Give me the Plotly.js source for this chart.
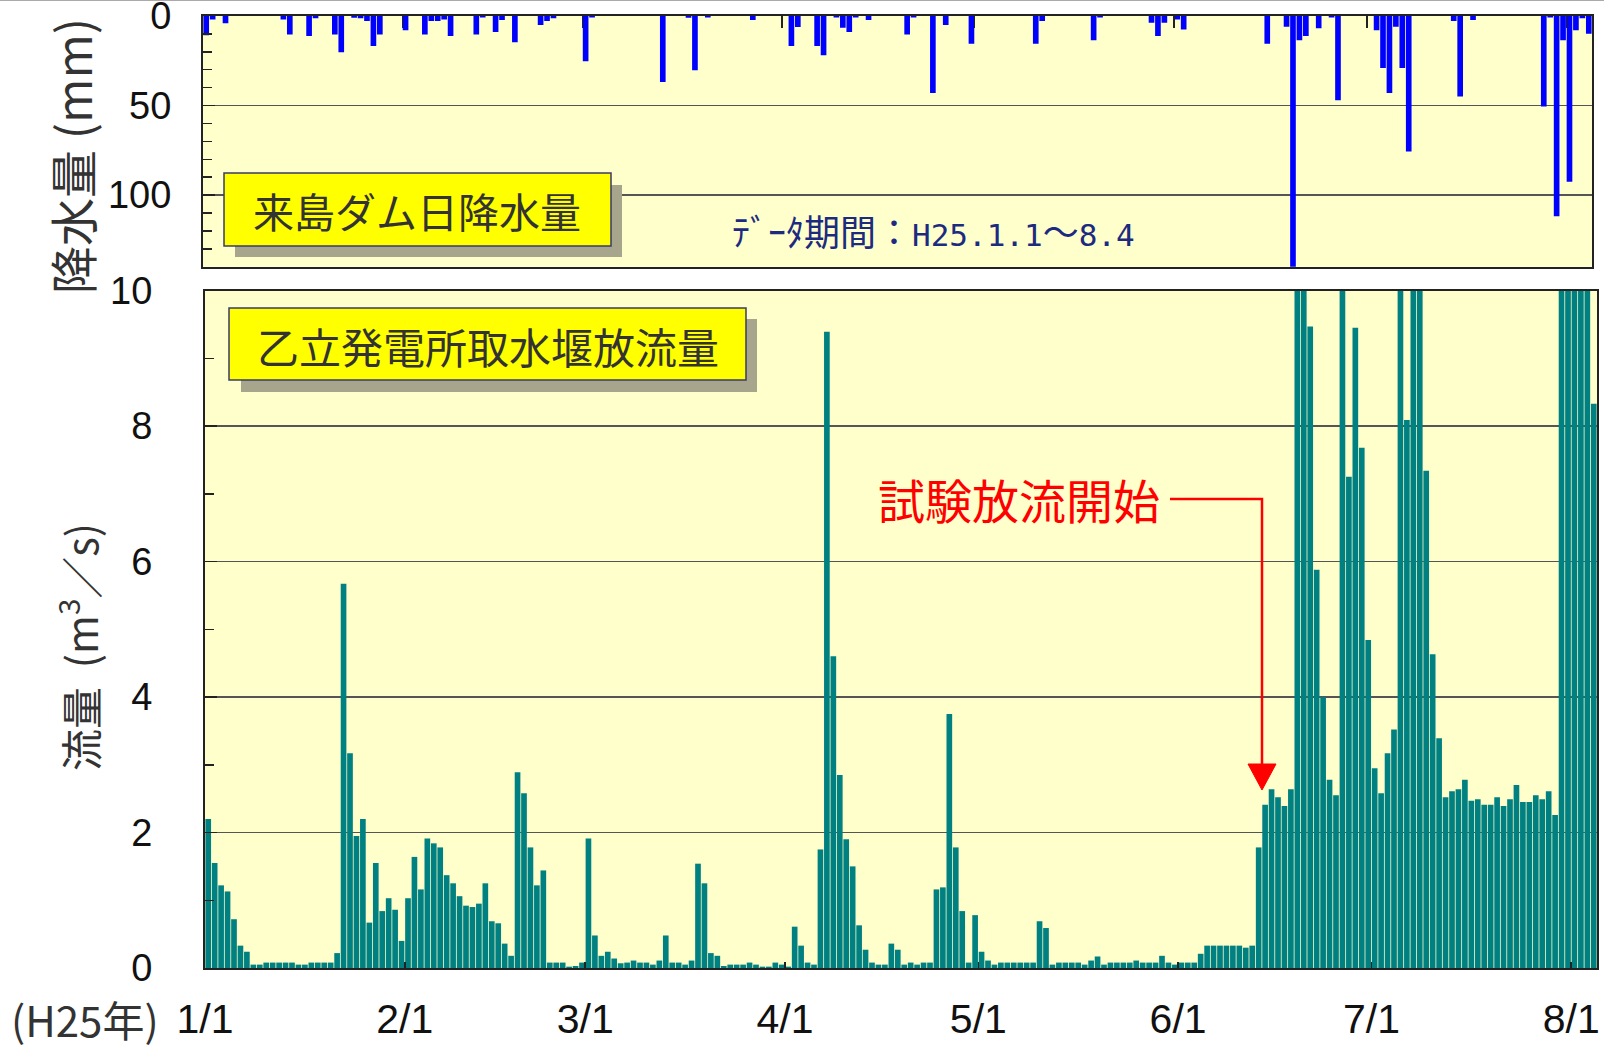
<!DOCTYPE html>
<html>
<head>
<meta charset="utf-8">
<script src="https://cdn.plot.ly/plotly-3.0.1.min.js"></script>
<style>html,body{margin:0;padding:0;background:#fff;}#chart{width:1604px;height:1045px;}</style>
</head>
<body>
<div id="chart"></div>
<script>
// ---- DATA (H25.1.1 - 8.4, one value per day) ----
// Daily rainfall at 来島ダム (mm)
const rainfallMm = [
 10.8,1.9,0,4.1,0,0,0,0,0,0, 0,0,1.9,10.3,0,0,11.2,1.3,0,0,
 10.3,20.2,0,1.0,1.3,2.8,16.8,10.3,0,0, 0,7.9,0,0,10.3,2.8,2.8,2.0,11.2,0,
 0,0,10.3,0.9,0,9.0,2.2,0,14.6,0, 0,0,5.0,2.8,1.3,0,0,0,0,25.2,
 0.9,0,0,0,0,0,0,0,0,0, 0,36.8,0,0,0,1.0,30.3,0,0.9,0,
 0,0,0,0,0,2.2,0,0,0,0, 0,16.8,6.2,0,0,16.8,21.9,0,0.9,6.5,
 9.0,0.9,0,2.2,0,0,0,0,0,10.3, 0.9,0,0,43.0,0,5.0,0,0,0,15.5,
 0,0,0,0,0,0,0,0,0,15.5, 2.8,0,0,0,0,0,0,0,13.5,0.9,
 0,0,0,0,0,0,0,3.7,11.2,3.7, 0,1.9,7.5,0,0,0,0,0,0,0,
 0,0,0,0,0,15.5,0,0,6.0,145, 13.5,11.2,0,6.9,0,0.9,47.0,0,0,0,
 0,0,7.9,29.0,43.0,6.0,29.0,75.7,0,0, 0,0,0,0,2.8,44.9,0,2.2,0,0,
 0,0,0,0,0,0,0,0,50.5,0.9, 111.8,13.5,92.5,7.9,1.3,9.9
];
// Daily discharge at 乙立発電所取水堰 (m3/s)
const dischargeM3s = [
 2.2,1.55,1.22,1.13,0.72,0.33,0.24,0.05,0.05,0.08, 0.08,0.08,0.08,0.08,0.05,0.05,0.08,0.08,0.08,0.08,
 0.22,5.67,3.17,1.95,2.2,0.67,1.55,0.84,1.03,0.86, 0.4,1.03,1.64,1.16,1.91,1.84,1.78,1.37,1.25,1.06,
 0.92,0.9,0.95,1.25,0.69,0.66,0.36,0.18,2.89,2.58, 1.78,1.22,1.44,0.08,0.08,0.08,0.02,0.03,0.08,1.91,
 0.48,0.18,0.24,0.14,0.07,0.08,0.11,0.08,0.08,0.05, 0.11,0.48,0.08,0.08,0.05,0.11,1.54,1.25,0.22,0.18,
 0.03,0.05,0.05,0.05,0.08,0.05,0.02,0.02,0.08,0.05, 0.02,0.61,0.33,0.08,0.05,1.75,9.39,4.6,2.85,1.9,
 1.5,0.63,0.27,0.08,0.05,0.05,0.36,0.27,0.05,0.08, 0.05,0.08,0.08,1.16,1.19,3.75,1.78,0.84,0.08,0.78,
 0.24,0.11,0.05,0.08,0.08,0.08,0.08,0.08,0.08,0.69, 0.59,0.05,0.08,0.08,0.08,0.08,0.05,0.11,0.17,0.05,
 0.08,0.08,0.08,0.08,0.11,0.08,0.08,0.08,0.18,0.08, 0.05,0.08,0.08,0.08,0.21,0.33,0.33,0.33,0.33,0.33,
 0.33,0.30,0.33,1.78,2.41,2.64,2.52,2.39,2.64,12.0, 12.0,9.47,5.88,4.0,2.78,2.55,12.0,7.25,9.45,7.68,
 4.84,2.95,2.58,3.17,3.52,12.0,8.09,12.0,12.0,7.34, 4.63,3.39,2.52,2.61,2.64,2.78,2.47,2.49,2.41,2.41,
 2.52,2.39,2.49,2.7,2.45,2.45,2.55,2.49,2.61,2.26, 12.0,12.0,12.0,12.0,12.0,8.33
];
// Month-start tick labels and their day offsets from 1/1
const monthTickLabels = ['1/1','2/1','3/1','4/1','5/1','6/1','7/1','8/1'];
const monthStartOffsets = [0,31,59,90,120,151,181,212];
const periodDays = 216;
const rainTicks = [0,50,100];

// ---- PLOT ----
const dayCenters = rainfallMm.map((_, i) => i + 0.5);

const L = 203, R = 1597, T = 16, B = 968;
const fx = px => (px - L) / (R - L);
const fy = py => (B - py) / (B - T);

const axisCol = '#222';
const gridCol = '#555';
const jp = 'Noto Sans CJK JP, sans-serif';
const num = 'Liberation Sans, Arial, sans-serif';
const mono = 'DejaVu Sans Mono, Liberation Mono, monospace';

const traces = [
  {type:'bar', x:dayCenters, y:dischargeM3s, xaxis:'x', yaxis:'y',
   marker:{color:'#008080', line:{width:0}}, hoverinfo:'skip'},
  {type:'bar', x:dayCenters, y:rainfallMm, xaxis:'x2', yaxis:'y2',
   marker:{color:'#0000FF', line:{width:0}}, hoverinfo:'skip'}
];

function rect(x0,y0,x1,y1,fill,line,lw){
  return {type:'rect', xref:'paper', yref:'paper', x0:fx(x0), x1:fx(x1), y0:fy(y1), y1:fy(y0),
          fillcolor:fill, line:{color:line||fill, width:lw||0}, layer:'above'};
}

const shapes = [
  {type:'line', xref:'paper', yref:'paper', x0:fx(0), x1:fx(1604), y0:fy(0.5), y1:fy(0.5), line:{color:'#aaa', width:1}},
  rect(235,185,622,257,'#a7a58b'),
  rect(224,173,611,246,'#FFFF00','#3a3a6a',1.5),
  rect(241,319,757,392,'#a7a58b'),
  rect(229,308,746,380,'#FFFF00','#3a3a6a',1.5),
  {type:'path', xref:'paper', yref:'paper', layer:'above',
   path:`M ${fx(1170)} ${fy(499)} L ${fx(1262)} ${fy(499)} L ${fx(1262)} ${fy(766)}`,
   line:{color:'#FF0000', width:2.5}},
  {type:'path', xref:'paper', yref:'paper', layer:'above',
   path:`M ${fx(1248)} ${fy(764)} L ${fx(1276)} ${fy(764)} L ${fx(1262)} ${fy(790)} Z`,
   fillcolor:'#FF0000', line:{color:'#FF0000', width:1}}
];

function ann(text,x,y,size,color,extra){
  return Object.assign({text:text, xref:'paper', yref:'paper', x:fx(x), y:fy(y),
    xanchor:'center', yanchor:'middle', showarrow:false,
    font:{family:jp, size:size, color:color}}, extra||{});
}

const monoSpan = s => `<span style="font-family:${mono};font-size:31px">${s}</span>`;

const annotations = [
  ann('来島ダム日降水量', 417, 210, 41, '#333'),
  ann('乙立発電所取水堰放流量', 488, 345, 42, '#333'),
  ann('ﾃﾞｰﾀ期間：' + monoSpan('H25.1.1') + '～' + monoSpan('8.4'), 933, 230, 36, '#1c2a80'),
  ann('試験放流開始', 1019, 498, 47, '#FF0000'),
  ann('降水量 (mm)', 71, 156, 48, '#333', {textangle:-90}),
  ann('流量\u00A0\u00A0(m<sup>3</sup>／s)', 78, 647, 42, '#333', {textangle:-90}),
  ann('(H25年)', 85, 1018, 42, '#333')
];

const layout = {
  width:1604, height:1045,
  margin:{l:L, r:1604-R, t:T, b:1045-B, pad:0},
  paper_bgcolor:'#ffffff', plot_bgcolor:'#FFFFCC',
  bargap:0.12, showlegend:false,
  xaxis:{domain:[fx(205),1], anchor:'y', range:[0,periodDays], tickmode:'array',
    tickvals:monthStartOffsets, ticktext:monthTickLabels,
    ticks:'inside', ticklen:6, tickwidth:1.5, tickcolor:axisCol,
    showline:true, linecolor:axisCol, linewidth:2, mirror:true,
    showgrid:false, zeroline:false, fixedrange:true,
    tickfont:{family:num, size:41, color:'#111'}, ticklabelstandoff:14, ticklabeloverflow:'allow'},
  yaxis:{domain:[0, fy(290.5)], anchor:'x', range:[0,10], tick0:0, dtick:2,
    ticks:'inside', ticklen:12, tickwidth:1.5, tickcolor:axisCol,
    showline:true, linecolor:axisCol, linewidth:2, mirror:true,
    showgrid:true, gridcolor:gridCol, gridwidth:1.5, zeroline:false,
    minor:{dtick:1, ticks:'inside', ticklen:9, tickcolor:axisCol, tickwidth:1.5, showgrid:false},
    tickfont:{family:num, size:38, color:'#111'}, ticklabelstandoff:43, ticklabeloverflow:'allow'},
  xaxis2:{domain:[0,fx(1592)], anchor:'y2', range:[0,periodDays], side:'top', tickmode:'array',
    tickvals:monthStartOffsets, showticklabels:false,
    ticks:'inside', ticklen:12, tickwidth:1.5, tickcolor:axisCol,
    showline:true, linecolor:axisCol, linewidth:2, mirror:true,
    showgrid:false, zeroline:false},
  yaxis2:{domain:[fy(266.7), 1], anchor:'x2', range:[140,0], tickmode:'array', tickvals:rainTicks,
    ticks:'inside', ticklen:12, tickwidth:1.5, tickcolor:axisCol,
    showline:true, linecolor:axisCol, linewidth:2, mirror:true,
    showgrid:true, gridcolor:gridCol, gridwidth:1.5, zeroline:false,
    minor:{dtick:10, ticks:'inside', ticklen:9, tickcolor:axisCol, tickwidth:1.5, showgrid:false},
    tickfont:{family:num, size:38, color:'#111'}, ticklabelstandoff:22, ticklabeloverflow:'allow'},
  shapes:shapes,
  annotations:annotations
};

Plotly.newPlot('chart', traces, layout, {displayModeBar:false, staticPlot:true});
</script>
</body>
</html>
